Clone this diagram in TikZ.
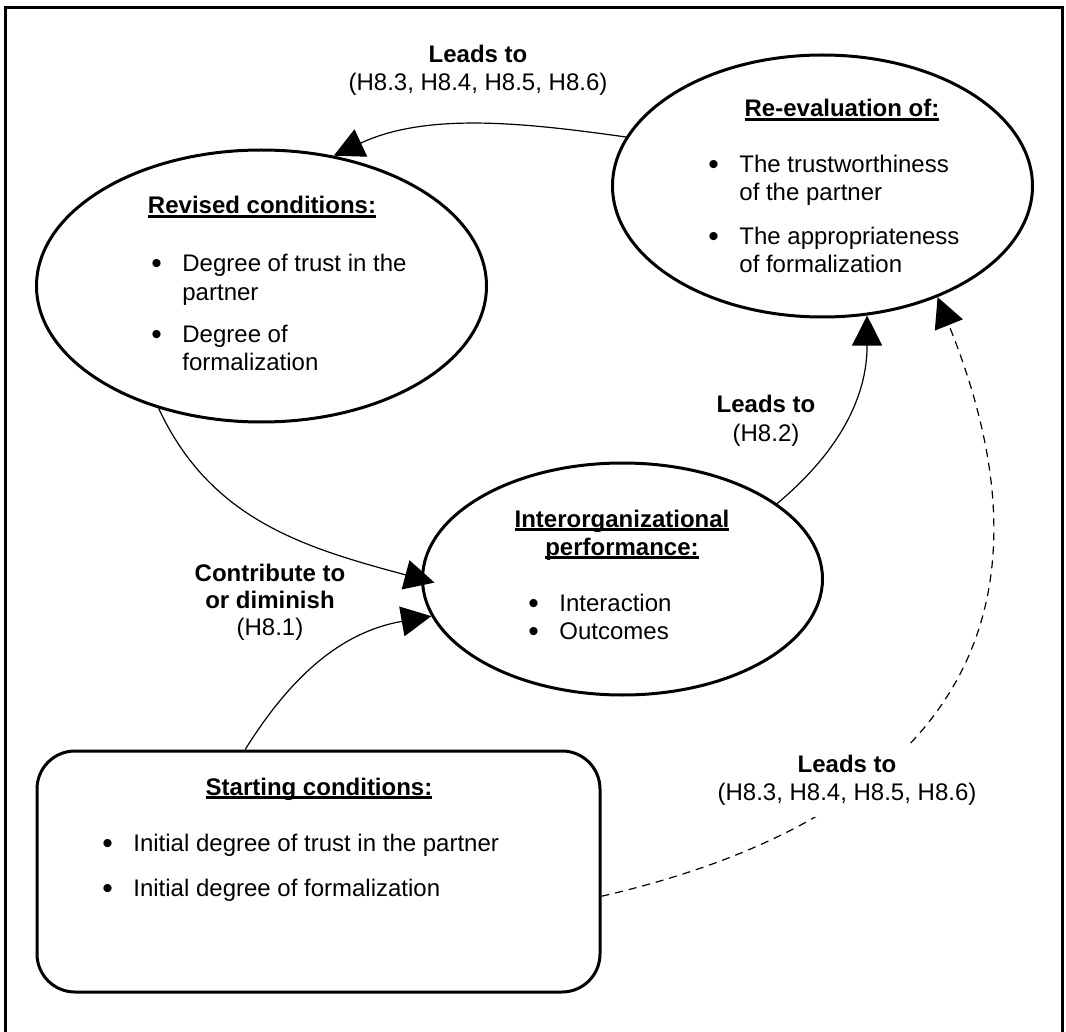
\documentclass[tikz,border=0pt]{standalone}
\usepackage{fontspec}
\setmainfont{Liberation Sans}
\usetikzlibrary{arrows.meta,shapes.geometric}

\newcommand{\ulhead}[1]{\setbox0=\hbox{\textbf{#1}}\rlap{\rule[-1.8pt]{\wd0}{1.2pt}}\box0}
\newcommand{\dotitem}{\makebox[15.5pt][l]{\raisebox{-0.08em}{\scalebox{1.25}{\textbullet}}}}

\tikzset{
  bubble/.style={ellipse, draw, line width=1.5pt, inner sep=0pt},
  link/.style={line width=0.6pt, -{Triangle[length=15pt,width=15pt]}},
  txt/.style={anchor=base, inner sep=0pt, font=\fontsize{12pt}{14pt}\selectfont},
  items/.style={anchor=base west, inner sep=0pt, font=\fontsize{12pt}{14pt}\selectfont}
}

\begin{document}
\begin{tikzpicture}[x=0.5pt,y=0.5pt]
\useasboundingbox (0,0) rectangle (1066,-1032);
\draw[line width=1.5pt] (5,-8) rectangle (1062,-1045);

% the four boxes
\node[bubble, minimum width=225pt, minimum height=136pt] (revised) at (261.5,-286) {};
\node[bubble, minimum width=210pt, minimum height=131pt] (reeval) at (822.5,-186) {};
\node[bubble, minimum width=200pt, minimum height=116pt] (inter) at (622.5,-579) {};
\node[draw, line width=1.5pt, rounded corners=19pt, inner sep=0pt,
      minimum width=281.5pt, minimum height=120.5pt] (start) at (318.5,-871.5) {};

\node[txt] (revisedhead) at (262,-214) {\ulhead{Revised conditions:}};
\node[items] (revisedlist) at (151,-272) {\begin{tabular}[t]{@{}l@{}l@{}}
  \dotitem & Degree of trust in the\\ & partner\\[7.5pt]
  \dotitem & Degree of\\ & formalization\end{tabular}};

\node[txt] (reevalhead) at (842,-117) {\ulhead{Re-evaluation of:}};
\node[items] (reevallist) at (708,-173) {\begin{tabular}[t]{@{}l@{}l@{}}
  \dotitem & The trustworthiness\\ & of the partner\\[8pt]
  \dotitem & The appropriateness\\ & of formalization\end{tabular}};

\node[txt] (interhead) at (622,-527) {\begin{tabular}[t]{@{}c@{}}
  \ulhead{Interorganizational}\\ \ulhead{performance:}\end{tabular}};
\node[items] (interlist) at (528,-611.7) {\begin{tabular}[t]{@{}l@{}l@{}}
  \dotitem & Interaction\\ \dotitem & Outcomes\end{tabular}};

\node[txt] (starthead) at (319,-795) {\ulhead{Starting conditions:}};
\node[items] (startlist) at (102,-851.7) {\begin{tabular}[t]{@{}l@{}l@{}}
  \dotitem & Initial degree of trust in the partner\\[8.5pt]
  \dotitem & Initial degree of formalization\end{tabular}};

% connectors
\draw[link] (reeval.166) to[out=172, in=25, looseness=0.9] (revised.61);
\draw[link] (inter.26) to[out=40, in=270] (reeval.289);
\draw[link, shorten >=-7pt] (revised.230) to[out=295, in=165] (inter.west);
\draw[link] (start.121) to[out=58, in=190] (inter.191);
\draw[link, dash pattern=on 4pt off 3pt] (start.355) .. controls +(13:320) and +(292:380) .. (reeval.316);

% labels
\node[txt] (topnote) at (478,-63) {\begin{tabular}[t]{@{}c@{}}
  \textbf{Leads to}\\ (H8.3, H8.4, H8.5, H8.6)\end{tabular}};
\node[txt] (midnote) at (766,-413) {\begin{tabular}[t]{@{}c@{}}
  \textbf{Leads to}\\ (H8.2)\end{tabular}};
\node[txt] (leftnote) at (270,-581.7) {\begin{tabular}[t]{@{}c@{}}
  \textbf{Contribute to}\\[-0.5pt] \textbf{or diminish}\\[-0.5pt] (H8.1)\end{tabular}};
\node[txt, fill=white, inner xsep=2pt, inner ysep=4pt] (dashnote) at (847,-772.7) {\begin{tabular}[t]{@{}c@{}}
  \textbf{Leads to}\\ (H8.3, H8.4, H8.5, H8.6)\end{tabular}};
\end{tikzpicture}
\end{document}
